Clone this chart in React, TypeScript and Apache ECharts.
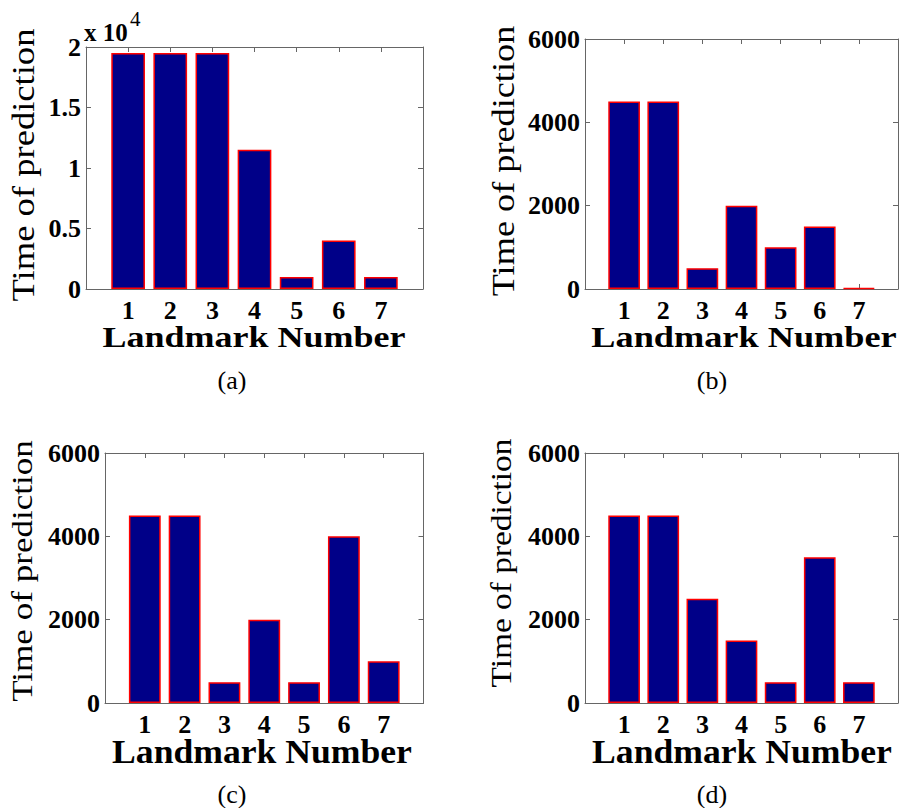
import React, { useEffect, useRef } from "react";
import * as echarts from "echarts";

// ---- data ----
const categories = ["1", "2", "3", "4", "5", "6", "7"];
const categoryPositions = [1, 2, 3, 4, 5, 6, 7];
const valuesA = [19500, 19500, 19500, 11500, 1000, 4000, 1000];
const valuesB = [4500, 4500, 500, 2000, 1000, 1500, 20];
const valuesC = [4500, 4500, 500, 2000, 500, 4000, 1000];
const valuesD = [4500, 4500, 2500, 1500, 500, 3500, 500];
const yMaxA = 20000;
const yIntervalA = 5000;
const yScaleA = 10000;
const yMax = 6000;
const yInterval = 2000;
const xTitle = "Landmark Number";
const yTitle = "Time of prediction";
const panelLabels = ["(a)", "(b)", "(c)", "(d)"];
const exponentBase = "x 10";
const exponent = "4";

const SERIF = "'Liberation Serif', 'Times New Roman', serif";
const AXIS_COLOR = "#666";
const BAR_FILL = "#000088";
const BAR_EDGE = "#ff0000";

type Panel = {
  values: number[];
  left: number;
  top: number;
  width: number;
  height: number;
  yMax: number;
  yInterval: number;
  yDiv: number;
  yTitle: { x: number; y: number; size: number; scale: number };
  xTitle: { x: number; y: number; size: number; scale: number };
  caption: { x: number; y: number };
  xLabelMargin: number;
};

const panels: Panel[] = [
  {
    values: valuesA, left: 86, top: 47, width: 337, height: 242,
    yMax: yMaxA, yInterval: yIntervalA, yDiv: yScaleA,
    yTitle: { x: 23, y: 165, size: 31, scale: 1.18 },
    xTitle: { x: 254, y: 337, size: 30, scale: 1.2 },
    caption: { x: 232, y: 380 },
    xLabelMargin: 8,
  },
  {
    values: valuesB, left: 585, top: 39, width: 317, height: 250,
    yMax, yInterval, yDiv: 1,
    yTitle: { x: 503, y: 161, size: 31, scale: 1.17 },
    xTitle: { x: 744, y: 337, size: 30, scale: 1.21 },
    caption: { x: 712, y: 380 },
    xLabelMargin: 8,
  },
  {
    values: valuesC, left: 105, top: 453, width: 318.5, height: 250,
    yMax, yInterval, yDiv: 1,
    yTitle: { x: 22.5, y: 571, size: 29, scale: 1.21 },
    xTitle: { x: 262, y: 751, size: 33, scale: 1.08 },
    caption: { x: 232, y: 794 },
    xLabelMargin: 8,
  },
  {
    values: valuesD, left: 585, top: 453, width: 317, height: 250,
    yMax, yInterval, yDiv: 1,
    yTitle: { x: 501.5, y: 563, size: 29, scale: 1.15 },
    xTitle: { x: 742, y: 751, size: 33, scale: 1.08 },
    caption: { x: 712, y: 794 },
    xLabelMargin: 8,
  },
];

function buildOption() {
  const grid: any[] = [];
  const xAxis: any[] = [];
  const yAxis: any[] = [];
  const series: any[] = [];
  const graphic: any[] = [];
  const lineStyle = { color: AXIS_COLOR, width: 1 };
  const tickStyle = { show: true, inside: true, length: 5, lineStyle };
  const labelFont = {
    fontFamily: SERIF,
    fontWeight: "bold",
    fontSize: 26,
    color: "#000",
  };

  panels.forEach((p, i) => {
    grid.push({ left: p.left, top: p.top, width: p.width, height: p.height, containLabel: false });
    xAxis.push({
      type: "value", gridIndex: i, position: "bottom", min: 0, max: categories.length + 1, interval: 1,
      axisLine: { show: true, onZero: false, lineStyle },
      axisTick: tickStyle,
      splitLine: { show: false },
      axisLabel: {
        ...labelFont,
        margin: p.xLabelMargin,
        showMinLabel: true,
        showMaxLabel: true,
        formatter: (v: number) => {
          const k = categoryPositions.indexOf(v);
          return k >= 0 ? categories[k] : "";
        },
      },
    });
    xAxis.push({
      type: "value", gridIndex: i, position: "top", min: 0, max: categories.length + 1, interval: 1,
      axisLine: { show: true, onZero: false, lineStyle },
      axisTick: tickStyle,
      splitLine: { show: false },
      axisLabel: { show: false },
    });
    yAxis.push({
      type: "value", gridIndex: i, position: "left", min: 0, max: p.yMax, interval: p.yInterval,
      axisLine: { show: true, onZero: false, lineStyle },
      axisTick: tickStyle,
      splitLine: { show: false },
      axisLabel: {
        ...labelFont,
        margin: 5,
        formatter: (v: number) => String(v / p.yDiv),
      },
    });
    yAxis.push({
      type: "value", gridIndex: i, position: "right", min: 0, max: p.yMax, interval: p.yInterval,
      axisLine: { show: true, onZero: false, lineStyle },
      axisTick: tickStyle,
      splitLine: { show: false },
      axisLabel: { show: false },
    });
    series.push({
      type: "bar",
      xAxisIndex: 2 * i,
      yAxisIndex: 2 * i,
      barWidth: (0.8 * p.width) / (categories.length + 1),
      data: p.values.map((v, k) => [categoryPositions[k], v]),
      itemStyle: { color: BAR_FILL, borderColor: BAR_EDGE, borderWidth: 1.5 },
      z: 3,
    });
    graphic.push({
      type: "text",
      x: p.yTitle.x,
      y: p.yTitle.y,
      rotation: Math.PI / 2,
      scaleX: p.yTitle.scale,
      style: {
        text: yTitle,
        fontFamily: SERIF,
        fontSize: p.yTitle.size,
        fill: "#000",
        align: "center",
        verticalAlign: "middle",
      },
    });
    graphic.push({
      type: "text",
      x: p.xTitle.x,
      y: p.xTitle.y,
      scaleX: p.xTitle.scale,
      style: {
        text: xTitle,
        fontFamily: SERIF,
        fontWeight: "bold",
        fontSize: p.xTitle.size,
        fill: "#000",
        align: "center",
        verticalAlign: "middle",
      },
    });
    graphic.push({
      type: "text",
      x: p.caption.x,
      y: p.caption.y,
      style: {
        text: panelLabels[i],
        fontFamily: SERIF,
        fontSize: 26,
        fill: "#000",
        align: "center",
        verticalAlign: "middle",
      },
    });
  });

  // exponent marker for panel (a)
  graphic.push({
    type: "text",
    x: 84,
    y: 32,
    style: {
      text: exponentBase,
      fontFamily: SERIF,
      fontWeight: "bold",
      fontSize: 25,
      fill: "#000",
      align: "left",
      verticalAlign: "middle",
    },
  });
  graphic.push({
    type: "text",
    x: 130,
    y: 19,
    style: {
      text: exponent,
      fontFamily: SERIF,
      fontSize: 21,
      fill: "#000",
      align: "left",
      verticalAlign: "middle",
    },
  });

  return {
    animation: false,
    backgroundColor: "#fff",
    grid,
    xAxis,
    yAxis,
    series,
    graphic,
  };
}

export default function App() {
  const ref = useRef<HTMLDivElement>(null);
  useEffect(() => {
    if (!ref.current) return;
    const chart = echarts.init(ref.current, null, { renderer: "svg" });
    chart.setOption(buildOption() as any);
    return () => chart.dispose();
  }, []);
  return (
    <div
      ref={ref}
      style={{ position: "fixed", left: 0, top: 0, width: 901, height: 808, background: "#fff" }}
    />
  );
}
